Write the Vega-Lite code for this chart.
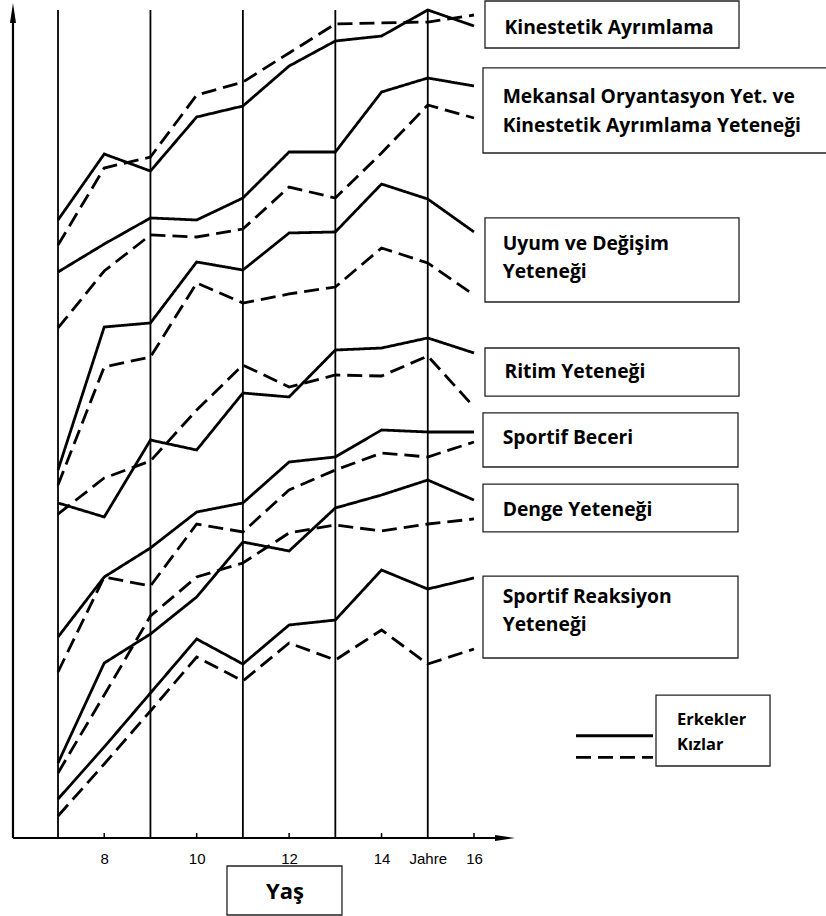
{
  "$schema": "https://vega.github.io/schema/vega-lite/v6.json",
  "width": 826,
  "height": 838,
  "autosize": {"type": "none"},
  "padding": {"left": 0, "top": 0, "right": 0, "bottom": 78},
  "background": "white",
  "config": {"view": {"stroke": null}},
  "datasets": {
    "series": [
      {"skill": "Kinestetik", "sex": "Erkekler", "age": 7, "value": 73.75},
      {"skill": "Kinestetik", "sex": "Erkekler", "age": 8, "value": 81.62},
      {"skill": "Kinestetik", "sex": "Erkekler", "age": 9, "value": 79.59},
      {"skill": "Kinestetik", "sex": "Erkekler", "age": 10, "value": 86.04},
      {"skill": "Kinestetik", "sex": "Erkekler", "age": 11, "value": 87.35},
      {"skill": "Kinestetik", "sex": "Erkekler", "age": 12, "value": 92.12},
      {"skill": "Kinestetik", "sex": "Erkekler", "age": 13, "value": 95.11},
      {"skill": "Kinestetik", "sex": "Erkekler", "age": 14, "value": 95.70},
      {"skill": "Kinestetik", "sex": "Erkekler", "age": 15, "value": 98.81},
      {"skill": "Kinestetik", "sex": "Erkekler", "age": 16, "value": 96.90},
      {"skill": "Kinestetik", "sex": "Kızlar", "age": 7, "value": 70.76},
      {"skill": "Kinestetik", "sex": "Kızlar", "age": 8, "value": 79.95},
      {"skill": "Kinestetik", "sex": "Kızlar", "age": 9, "value": 81.26},
      {"skill": "Kinestetik", "sex": "Kızlar", "age": 10, "value": 88.66},
      {"skill": "Kinestetik", "sex": "Kızlar", "age": 11, "value": 90.21},
      {"skill": "Kinestetik", "sex": "Kızlar", "age": 12, "value": 93.68},
      {"skill": "Kinestetik", "sex": "Kızlar", "age": 13, "value": 97.14},
      {"skill": "Kinestetik", "sex": "Kızlar", "age": 14, "value": 97.26},
      {"skill": "Kinestetik", "sex": "Kızlar", "age": 15, "value": 97.37},
      {"skill": "Kinestetik", "sex": "Kızlar", "age": 16, "value": 98.21},
      {"skill": "Mekansal", "sex": "Erkekler", "age": 7, "value": 67.54},
      {"skill": "Mekansal", "sex": "Erkekler", "age": 8, "value": 70.88},
      {"skill": "Mekansal", "sex": "Erkekler", "age": 9, "value": 73.99},
      {"skill": "Mekansal", "sex": "Erkekler", "age": 10, "value": 73.75},
      {"skill": "Mekansal", "sex": "Erkekler", "age": 11, "value": 76.37},
      {"skill": "Mekansal", "sex": "Erkekler", "age": 12, "value": 81.86},
      {"skill": "Mekansal", "sex": "Erkekler", "age": 13, "value": 81.86},
      {"skill": "Mekansal", "sex": "Erkekler", "age": 14, "value": 89.02},
      {"skill": "Mekansal", "sex": "Erkekler", "age": 15, "value": 90.69},
      {"skill": "Mekansal", "sex": "Erkekler", "age": 16, "value": 89.74},
      {"skill": "Mekansal", "sex": "Kızlar", "age": 7, "value": 60.86},
      {"skill": "Mekansal", "sex": "Kızlar", "age": 8, "value": 67.66},
      {"skill": "Mekansal", "sex": "Kızlar", "age": 9, "value": 71.96},
      {"skill": "Mekansal", "sex": "Kızlar", "age": 10, "value": 71.72},
      {"skill": "Mekansal", "sex": "Kızlar", "age": 11, "value": 72.67},
      {"skill": "Mekansal", "sex": "Kızlar", "age": 12, "value": 77.68},
      {"skill": "Mekansal", "sex": "Kızlar", "age": 13, "value": 76.37},
      {"skill": "Mekansal", "sex": "Kızlar", "age": 14, "value": 81.74},
      {"skill": "Mekansal", "sex": "Kızlar", "age": 15, "value": 87.47},
      {"skill": "Mekansal", "sex": "Kızlar", "age": 16, "value": 85.92},
      {"skill": "Uyum", "sex": "Erkekler", "age": 7, "value": 43.91},
      {"skill": "Uyum", "sex": "Erkekler", "age": 8, "value": 60.98},
      {"skill": "Uyum", "sex": "Erkekler", "age": 9, "value": 61.46},
      {"skill": "Uyum", "sex": "Erkekler", "age": 10, "value": 68.74},
      {"skill": "Uyum", "sex": "Erkekler", "age": 11, "value": 67.78},
      {"skill": "Uyum", "sex": "Erkekler", "age": 12, "value": 72.20},
      {"skill": "Uyum", "sex": "Erkekler", "age": 13, "value": 72.32},
      {"skill": "Uyum", "sex": "Erkekler", "age": 14, "value": 78.04},
      {"skill": "Uyum", "sex": "Erkekler", "age": 15, "value": 76.25},
      {"skill": "Uyum", "sex": "Erkekler", "age": 16, "value": 72.32},
      {"skill": "Uyum", "sex": "Kızlar", "age": 7, "value": 42.12},
      {"skill": "Uyum", "sex": "Kızlar", "age": 8, "value": 56.21},
      {"skill": "Uyum", "sex": "Kızlar", "age": 9, "value": 57.40},
      {"skill": "Uyum", "sex": "Kızlar", "age": 10, "value": 66.23},
      {"skill": "Uyum", "sex": "Kızlar", "age": 11, "value": 63.84},
      {"skill": "Uyum", "sex": "Kızlar", "age": 12, "value": 64.92},
      {"skill": "Uyum", "sex": "Kızlar", "age": 13, "value": 65.75},
      {"skill": "Uyum", "sex": "Kızlar", "age": 14, "value": 70.41},
      {"skill": "Uyum", "sex": "Kızlar", "age": 15, "value": 68.62},
      {"skill": "Uyum", "sex": "Kızlar", "age": 16, "value": 64.80},
      {"skill": "Ritim", "sex": "Erkekler", "age": 7, "value": 39.98},
      {"skill": "Ritim", "sex": "Erkekler", "age": 8, "value": 38.31},
      {"skill": "Ritim", "sex": "Erkekler", "age": 9, "value": 47.49},
      {"skill": "Ritim", "sex": "Erkekler", "age": 10, "value": 46.30},
      {"skill": "Ritim", "sex": "Erkekler", "age": 11, "value": 53.10},
      {"skill": "Ritim", "sex": "Erkekler", "age": 12, "value": 52.63},
      {"skill": "Ritim", "sex": "Erkekler", "age": 13, "value": 58.23},
      {"skill": "Ritim", "sex": "Erkekler", "age": 14, "value": 58.47},
      {"skill": "Ritim", "sex": "Erkekler", "age": 15, "value": 59.67},
      {"skill": "Ritim", "sex": "Erkekler", "age": 16, "value": 57.88},
      {"skill": "Ritim", "sex": "Kızlar", "age": 7, "value": 38.66},
      {"skill": "Ritim", "sex": "Kızlar", "age": 8, "value": 42.96},
      {"skill": "Ritim", "sex": "Kızlar", "age": 9, "value": 44.99},
      {"skill": "Ritim", "sex": "Kızlar", "age": 10, "value": 51.07},
      {"skill": "Ritim", "sex": "Kızlar", "age": 11, "value": 56.44},
      {"skill": "Ritim", "sex": "Kızlar", "age": 12, "value": 53.82},
      {"skill": "Ritim", "sex": "Kızlar", "age": 13, "value": 55.25},
      {"skill": "Ritim", "sex": "Kızlar", "age": 14, "value": 55.13},
      {"skill": "Ritim", "sex": "Kızlar", "age": 15, "value": 57.52},
      {"skill": "Ritim", "sex": "Kızlar", "age": 16, "value": 51.43},
      {"skill": "Beceri", "sex": "Erkekler", "age": 7, "value": 23.99},
      {"skill": "Beceri", "sex": "Erkekler", "age": 8, "value": 31.15},
      {"skill": "Beceri", "sex": "Erkekler", "age": 9, "value": 34.61},
      {"skill": "Beceri", "sex": "Erkekler", "age": 10, "value": 38.90},
      {"skill": "Beceri", "sex": "Erkekler", "age": 11, "value": 39.98},
      {"skill": "Beceri", "sex": "Erkekler", "age": 12, "value": 44.87},
      {"skill": "Beceri", "sex": "Erkekler", "age": 13, "value": 45.47},
      {"skill": "Beceri", "sex": "Erkekler", "age": 14, "value": 48.69},
      {"skill": "Beceri", "sex": "Erkekler", "age": 15, "value": 48.45},
      {"skill": "Beceri", "sex": "Erkekler", "age": 16, "value": 48.45},
      {"skill": "Beceri", "sex": "Kızlar", "age": 7, "value": 19.81},
      {"skill": "Beceri", "sex": "Kızlar", "age": 8, "value": 31.15},
      {"skill": "Beceri", "sex": "Kızlar", "age": 9, "value": 30.07},
      {"skill": "Beceri", "sex": "Kızlar", "age": 10, "value": 37.47},
      {"skill": "Beceri", "sex": "Kızlar", "age": 11, "value": 36.52},
      {"skill": "Beceri", "sex": "Kızlar", "age": 12, "value": 41.53},
      {"skill": "Beceri", "sex": "Kızlar", "age": 13, "value": 43.91},
      {"skill": "Beceri", "sex": "Kızlar", "age": 14, "value": 45.94},
      {"skill": "Beceri", "sex": "Kızlar", "age": 15, "value": 45.47},
      {"skill": "Beceri", "sex": "Kızlar", "age": 16, "value": 47.26},
      {"skill": "Denge", "sex": "Erkekler", "age": 7, "value": 8.95},
      {"skill": "Denge", "sex": "Erkekler", "age": 8, "value": 20.88},
      {"skill": "Denge", "sex": "Erkekler", "age": 9, "value": 24.34},
      {"skill": "Denge", "sex": "Erkekler", "age": 10, "value": 28.76},
      {"skill": "Denge", "sex": "Erkekler", "age": 11, "value": 35.32},
      {"skill": "Denge", "sex": "Erkekler", "age": 12, "value": 34.25},
      {"skill": "Denge", "sex": "Erkekler", "age": 13, "value": 39.38},
      {"skill": "Denge", "sex": "Erkekler", "age": 14, "value": 40.93},
      {"skill": "Denge", "sex": "Erkekler", "age": 15, "value": 42.72},
      {"skill": "Denge", "sex": "Erkekler", "age": 16, "value": 40.33},
      {"skill": "Denge", "sex": "Kızlar", "age": 7, "value": 7.76},
      {"skill": "Denge", "sex": "Kızlar", "age": 8, "value": 17.06},
      {"skill": "Denge", "sex": "Kızlar", "age": 9, "value": 26.49},
      {"skill": "Denge", "sex": "Kızlar", "age": 10, "value": 31.15},
      {"skill": "Denge", "sex": "Kızlar", "age": 11, "value": 32.82},
      {"skill": "Denge", "sex": "Kızlar", "age": 12, "value": 36.40},
      {"skill": "Denge", "sex": "Kızlar", "age": 13, "value": 37.35},
      {"skill": "Denge", "sex": "Kızlar", "age": 14, "value": 36.63},
      {"skill": "Denge", "sex": "Kızlar", "age": 15, "value": 37.47},
      {"skill": "Denge", "sex": "Kızlar", "age": 16, "value": 38.07},
      {"skill": "Reaksiyon", "sex": "Erkekler", "age": 7, "value": 4.65},
      {"skill": "Reaksiyon", "sex": "Erkekler", "age": 8, "value": 10.86},
      {"skill": "Reaksiyon", "sex": "Erkekler", "age": 9, "value": 17.30},
      {"skill": "Reaksiyon", "sex": "Erkekler", "age": 10, "value": 23.75},
      {"skill": "Reaksiyon", "sex": "Erkekler", "age": 11, "value": 20.76},
      {"skill": "Reaksiyon", "sex": "Erkekler", "age": 12, "value": 25.42},
      {"skill": "Reaksiyon", "sex": "Erkekler", "age": 13, "value": 26.01},
      {"skill": "Reaksiyon", "sex": "Erkekler", "age": 14, "value": 31.98},
      {"skill": "Reaksiyon", "sex": "Erkekler", "age": 15, "value": 29.71},
      {"skill": "Reaksiyon", "sex": "Erkekler", "age": 16, "value": 31.03},
      {"skill": "Reaksiyon", "sex": "Kızlar", "age": 7, "value": 2.63},
      {"skill": "Reaksiyon", "sex": "Kızlar", "age": 8, "value": 8.83},
      {"skill": "Reaksiyon", "sex": "Kızlar", "age": 9, "value": 15.16},
      {"skill": "Reaksiyon", "sex": "Kızlar", "age": 10, "value": 21.60},
      {"skill": "Reaksiyon", "sex": "Kızlar", "age": 11, "value": 18.74},
      {"skill": "Reaksiyon", "sex": "Kızlar", "age": 12, "value": 23.27},
      {"skill": "Reaksiyon", "sex": "Kızlar", "age": 13, "value": 21.24},
      {"skill": "Reaksiyon", "sex": "Kızlar", "age": 14, "value": 24.82},
      {"skill": "Reaksiyon", "sex": "Kızlar", "age": 15, "value": 20.76},
      {"skill": "Reaksiyon", "sex": "Kızlar", "age": 16, "value": 22.55}
    ],
    "gridAges": [{"age": 7}, {"age": 9}, {"age": 11}, {"age": 13}, {"age": 15}],
    "tickAges": [{"age": 8}, {"age": 10}, {"age": 12}, {"age": 14}, {"age": 16}],
    "boxes": [
      {"box": "Kinestetik", "a0": 16.238, "a1": 21.734, "v0": 94.27, "v1": 99.88},
      {"box": "Mekansal", "a0": 16.195, "a1": 23.703, "v0": 81.74, "v1": 91.89},
      {"box": "Uyum", "a0": 16.238, "a1": 21.734, "v0": 63.96, "v1": 73.99},
      {"box": "Ritim", "a0": 16.238, "a1": 21.734, "v0": 52.74, "v1": 58.47},
      {"box": "Beceri", "a0": 16.195, "a1": 21.712, "v0": 44.27, "v1": 50.72},
      {"box": "Denge", "a0": 16.195, "a1": 21.712, "v0": 36.52, "v1": 42.24},
      {"box": "Reaksiyon", "a0": 16.195, "a1": 21.712, "v0": 21.48, "v1": 31.26},
      {"box": "Legend", "a0": 19.938, "a1": 22.405, "v0": 8.59, "v1": 17.06},
      {"box": "Yaş", "a0": 10.656, "a1": 13.144, "v0": -9.19, "v1": -3.34}
    ],
    "labels": [
      {"text": "Kinestetik Ayrımlama", "age": 16.66, "value": 96.62},
      {"text": "Mekansal Oryantasyon Yet. ve", "age": 16.62, "value": 88.43},
      {"text": "Kinestetik Ayrımlama Yeteneği", "age": 16.62, "value": 84.96},
      {"text": "Uyum ve Değişim", "age": 16.62, "value": 70.88},
      {"text": "Yeteneği", "age": 16.62, "value": 67.54},
      {"text": "Ritim Yeteneği", "age": 16.66, "value": 55.55},
      {"text": "Sportif Beceri", "age": 16.62, "value": 47.73},
      {"text": "Denge Yeteneği", "age": 16.62, "value": 39.14},
      {"text": "Sportif Reaksiyon", "age": 16.62, "value": 28.76},
      {"text": "Yeteneği", "age": 16.62, "value": 25.42}
    ],
    "legendLabels": [
      {"text": "Erkekler", "age": 20.392, "value": 14.08},
      {"text": "Kızlar", "age": 20.392, "value": 11.04}
    ],
    "legendLines": [
      {"sex": "Erkekler", "age": 18.207, "value": 12.2},
      {"sex": "Erkekler", "age": 19.873, "value": 12.2},
      {"sex": "Kızlar", "age": 18.207, "value": 9.63},
      {"sex": "Kızlar", "age": 19.873, "value": 9.63}
    ],
    "one": [{}]
  },
  "layer": [
    {
      "data": {"name": "series"},
      "mark": {"type": "line", "color": "black", "strokeWidth": 2.8, "strokeJoin": "miter"},
      "encoding": {
        "x": {
          "field": "age",
          "type": "quantitative",
          "scale": {"domain": [5.745, 23.616], "nice": false, "zero": false},
          "axis": {
            "values": [8, 10, 12, 14, 15, 16],
            "labelExpr": "datum.value == 15 ? 'Jahre' : datum.label",
            "domain": false,
            "ticks": false,
            "grid": false,
            "title": null,
            "labelFont": "Liberation Sans",
            "labelFontSize": 15,
            "labelColor": "black",
            "labelPadding": 13,
            "labelFlush": false,
            "labelOverlap": false
          }
        },
        "y": {
          "field": "value",
          "type": "quantitative",
          "scale": {"domain": [0, 100], "nice": false, "zero": false},
          "axis": null
        },
        "detail": {"field": "skill"},
        "strokeDash": {
          "field": "sex",
          "type": "nominal",
          "scale": {"domain": ["Erkekler", "Kızlar"], "range": [[1, 0], [15, 7]]},
          "legend": null
        }
      }
    },
    {
      "data": {"name": "gridAges"},
      "mark": {"type": "rule", "color": "black", "strokeWidth": 1.8},
      "encoding": {
        "x": {"field": "age", "type": "quantitative"},
        "y": {"datum": 0, "type": "quantitative", "axis": null},
        "y2": {"datum": 98.8}
      }
    },
    {
      "data": {"name": "tickAges"},
      "mark": {"type": "rule", "color": "black", "strokeWidth": 1.5},
      "encoding": {
        "x": {"field": "age", "type": "quantitative"},
        "y": {"datum": 0, "type": "quantitative", "axis": null},
        "y2": {"datum": 0.6}
      }
    },
    {
      "data": {"name": "legendLines"},
      "mark": {"type": "line", "color": "black", "strokeWidth": 2.8},
      "encoding": {
        "x": {"field": "age", "type": "quantitative"},
        "y": {"field": "value", "type": "quantitative", "axis": null},
        "detail": {"field": "sex"},
        "strokeDash": {"field": "sex", "type": "nominal", "legend": null}
      }
    },
    {
      "data": {"name": "one"},
      "mark": {"type": "rule", "color": "black", "strokeWidth": 2.2},
      "encoding": {
        "x": {"datum": 6.026, "type": "quantitative"},
        "y": {"datum": 0, "type": "quantitative", "axis": null},
        "y2": {"datum": 97.5}
      }
    },
    {
      "data": {"name": "one"},
      "mark": {"type": "rule", "color": "black", "strokeWidth": 2.2},
      "encoding": {
        "x": {"datum": 6.026, "type": "quantitative"},
        "x2": {"datum": 16.5},
        "y": {"datum": 0, "type": "quantitative", "axis": null}
      }
    },
    {
      "data": {"name": "one"},
      "mark": {"type": "point", "shape": "M0,-1L0.3,1L-0.3,1Z", "filled": true, "color": "black", "size": 400, "opacity": 1},
      "encoding": {
        "x": {"datum": 6.026, "type": "quantitative"},
        "y": {"datum": 98.45, "type": "quantitative", "axis": null}
      }
    },
    {
      "data": {"name": "one"},
      "mark": {"type": "point", "shape": "M1,0L-1,-0.3L-1,0.3Z", "filled": true, "color": "black", "size": 400, "opacity": 1},
      "encoding": {
        "x": {"datum": 16.671, "type": "quantitative"},
        "y": {"datum": 0, "type": "quantitative", "axis": null}
      }
    },
    {
      "data": {"name": "boxes"},
      "mark": {"type": "rect", "fill": "white", "stroke": "#222222", "strokeWidth": 1.3},
      "encoding": {
        "x": {"field": "a0", "type": "quantitative"},
        "x2": {"field": "a1"},
        "y": {"field": "v0", "type": "quantitative", "axis": null},
        "y2": {"field": "v1"}
      }
    },
    {
      "data": {"name": "labels"},
      "mark": {"type": "text", "align": "left", "baseline": "middle", "font": "Open Sans", "fontWeight": "bold", "fontSize": 19.3, "color": "black"},
      "encoding": {
        "x": {"field": "age", "type": "quantitative"},
        "y": {"field": "value", "type": "quantitative", "axis": null},
        "text": {"field": "text"}
      }
    },
    {
      "data": {"name": "legendLabels"},
      "mark": {"type": "text", "align": "left", "baseline": "middle", "font": "Open Sans", "fontWeight": "bold", "fontSize": 16.5, "color": "black"},
      "encoding": {
        "x": {"field": "age", "type": "quantitative"},
        "y": {"field": "value", "type": "quantitative", "axis": null},
        "text": {"field": "text"}
      }
    },
    {
      "data": {"name": "one"},
      "mark": {"type": "text", "align": "center", "baseline": "middle", "font": "Open Sans", "fontWeight": "bold", "fontSize": 22, "color": "black"},
      "encoding": {
        "x": {"datum": 11.911, "type": "quantitative"},
        "y": {"datum": -6.44, "type": "quantitative", "axis": null},
        "text": {"value": "Yaş"}
      }
    }
  ]
}
